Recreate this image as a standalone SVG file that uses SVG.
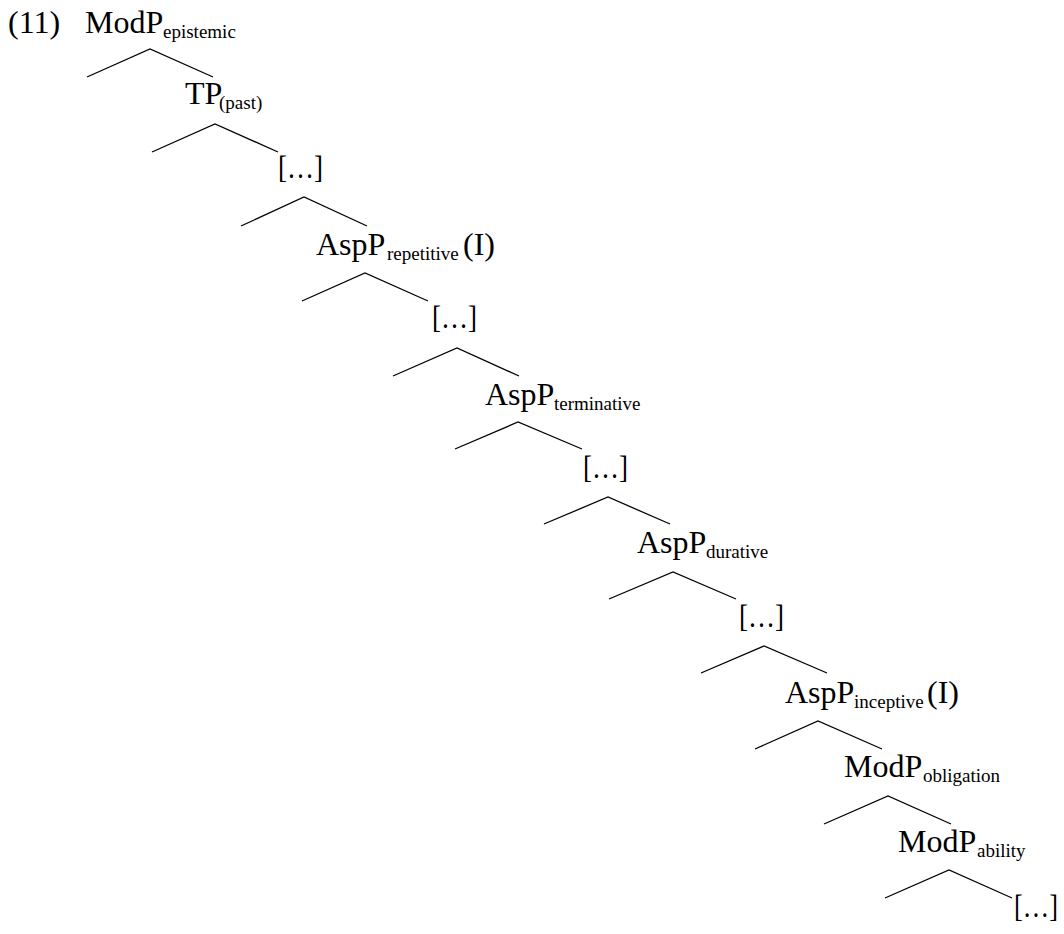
<svg xmlns="http://www.w3.org/2000/svg" width="1064" height="934" viewBox="0 0 1064 934">
<style>
text{font-family:"Liberation Serif","Times New Roman",serif;fill:#000;}
.m{font-size:32px;}
.s{font-size:19px;}
.e{font-size:32px;}
#connectors polyline{fill:none;stroke:#000;stroke-width:1.3;stroke-linejoin:miter;}
</style>
<rect width="1064" height="934" fill="#fff"/>
<g id="example-number"><text class="m" x="8" y="33">(11)</text></g>
<g id="connectors">
<polyline points="87,77 150,49 213,77"/>
<polyline points="152,152 215,124 278,152"/>
<polyline points="241,226 304,197 367,226"/>
<polyline points="302,301 365,273 428,301"/>
<polyline points="393,376 457,348 519,376"/>
<polyline points="455,449 518,422 582,449"/>
<polyline points="544,524 608,497 670,524"/>
<polyline points="609,599 673,572 736,599"/>
<polyline points="701,673 764,646 827,673"/>
<polyline points="755,749 818,721 882,749"/>
<polyline points="824,824 888,796 951,824"/>
<polyline points="885,898 949,870 1012,898"/>
</g>
<g id="n1"><text class="m" x="85" y="33">ModP<tspan class="s" x="163" y="38">epistemic</tspan></text></g>
<g id="n2"><text class="m" x="185" y="104">TP<tspan class="s" x="219" y="109">(past)</tspan></text></g>
<g id="n3"><text class="e" x="278" y="178" textLength="45" lengthAdjust="spacingAndGlyphs">[…]</text></g>
<g id="n4"><text class="m" x="316" y="255">AspP<tspan class="s" x="387" y="260">repetitive</tspan><tspan x="463" y="255">(I)</tspan></text></g>
<g id="n5"><text class="e" x="432" y="328" textLength="45" lengthAdjust="spacingAndGlyphs">[…]</text></g>
<g id="n6"><text class="m" x="485" y="405">AspP<tspan class="s" x="554" y="410">terminative</tspan></text></g>
<g id="n7"><text class="e" x="583" y="478" textLength="45" lengthAdjust="spacingAndGlyphs">[…]</text></g>
<g id="n8"><text class="m" x="637" y="553">AspP<tspan class="s" x="706" y="558">durative</tspan></text></g>
<g id="n9"><text class="e" x="739" y="627" textLength="45" lengthAdjust="spacingAndGlyphs">[…]</text></g>
<g id="n10"><text class="m" x="785" y="703">AspP<tspan class="s" x="854" y="708">inceptive</tspan><tspan x="927" y="703">(I)</tspan></text></g>
<g id="n11"><text class="m" x="844" y="777">ModP<tspan class="s" x="923" y="782">obligation</tspan></text></g>
<g id="n12"><text class="m" x="898" y="852">ModP<tspan class="s" x="977" y="857">ability</tspan></text></g>
<g id="n13"><text class="e" x="1014" y="917" textLength="44" lengthAdjust="spacingAndGlyphs">[…]</text></g>
</svg>
